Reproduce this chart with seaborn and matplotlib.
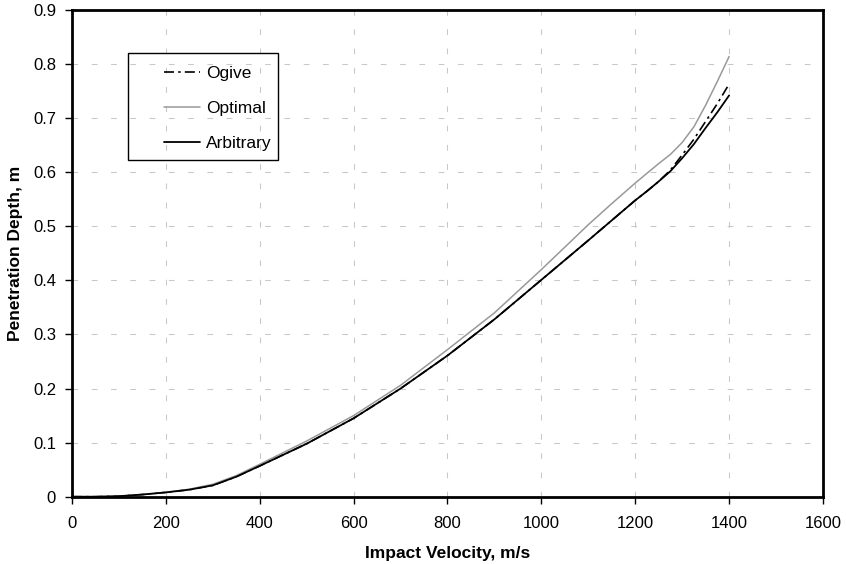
import pandas as pd
import numpy as np
import matplotlib
matplotlib.use("Agg")
import matplotlib.pyplot as plt
import seaborn as sns
from matplotlib.patches import Rectangle

# 冲击速度 (m/s)
velocity = [0, 50, 100, 150, 200, 250, 300, 350, 400, 500, 600, 700, 800, 900,
            1000, 1100, 1150, 1200, 1225, 1250, 1275, 1300, 1325, 1350, 1375, 1400]

# 侵彻深度 (m)
arbitrary = [0, 0, 0.001, 0.004, 0.008, 0.013, 0.021, 0.037, 0.057, 0.098, 0.145, 0.200, 0.261, 0.328,
             0.401, 0.474, 0.511, 0.548, 0.565, 0.583, 0.602, 0.626, 0.652, 0.682, 0.711, 0.742]
ogive = [0, 0, 0.001, 0.004, 0.008, 0.013, 0.021, 0.037, 0.057, 0.098, 0.145, 0.200, 0.261, 0.328,
         0.401, 0.474, 0.511, 0.548, 0.565, 0.583, 0.604, 0.632, 0.661, 0.694, 0.727, 0.763]
optimal = [0, 0, 0.001, 0.004, 0.008, 0.014, 0.023, 0.039, 0.060, 0.103, 0.150, 0.206, 0.272, 0.340,
           0.420, 0.503, 0.542, 0.580, 0.598, 0.616, 0.633, 0.655, 0.684, 0.724, 0.768, 0.814]

df = pd.DataFrame({"v": velocity, "Ogive": ogive, "Optimal": optimal, "Arbitrary": arbitrary})

sns.set_style("white")
plt.rcParams['font.family'] = ['Liberation Sans', 'DejaVu Sans']
plt.rcParams['text.color'] = 'black'
plt.rcParams['axes.labelcolor'] = 'black'
plt.rcParams['xtick.color'] = 'black'
plt.rcParams['ytick.color'] = 'black'

fig = plt.figure(figsize=(8.46, 5.64), dpi=100)
ax = fig.add_axes([0.0851, 0.1193, 0.8877, 0.863])

# 三条曲线
sns.lineplot(data=df, x="v", y="Ogive", ax=ax, color="black", lw=1.2,
             linestyle=(0, (6, 2.5, 1.5, 2.5)), label="Ogive")
sns.lineplot(data=df, x="v", y="Optimal", ax=ax, color="#999999", lw=1.1, label="Optimal")
sns.lineplot(data=df, x="v", y="Arbitrary", ax=ax, color="black", lw=1.3, label="Arbitrary")

ax.set_xlim(0, 1600)
ax.set_ylim(0, 0.9)
ax.set_xticks(np.arange(0, 1601, 200))
ax.set_yticks(np.arange(0, 0.91, 0.1))
ax.set_yticklabels(["0"] + [f"{t:.1f}" for t in np.arange(0.1, 0.91, 0.1)])

ax.grid(True, color="#c8c8c8", linestyle=(0, (5.5, 13)), linewidth=0.75)
for s in ax.spines.values():
    s.set_color("black")
    s.set_linewidth(2)

ax.tick_params(axis="both", direction="out", length=5, width=1, color="black",
               labelsize=12, bottom=True, left=True)
ax.tick_params(axis="x", pad=9)
ax.tick_params(axis="y", pad=6.5)

ax.set_xlabel("Impact Velocity, m/s", fontsize=12.5, fontweight="bold", labelpad=11)
ax.set_ylabel("Penetration Depth, m", fontsize=12.5, fontweight="bold", labelpad=7)

# 图例 + 边框
leg = ax.legend(loc="upper left", bbox_to_anchor=(0.1225, 0.886), frameon=False,
                fontsize=12.5, handlelength=2.1, handletextpad=0.3, labelspacing=1.15,
                borderpad=0, borderaxespad=0)
ax.add_patch(Rectangle((0.0746, 0.692), 0.1997, 0.22, transform=ax.transAxes,
                       fill=False, edgecolor="black", linewidth=1, zorder=5))

plt.savefig("out.png", dpi=100)
